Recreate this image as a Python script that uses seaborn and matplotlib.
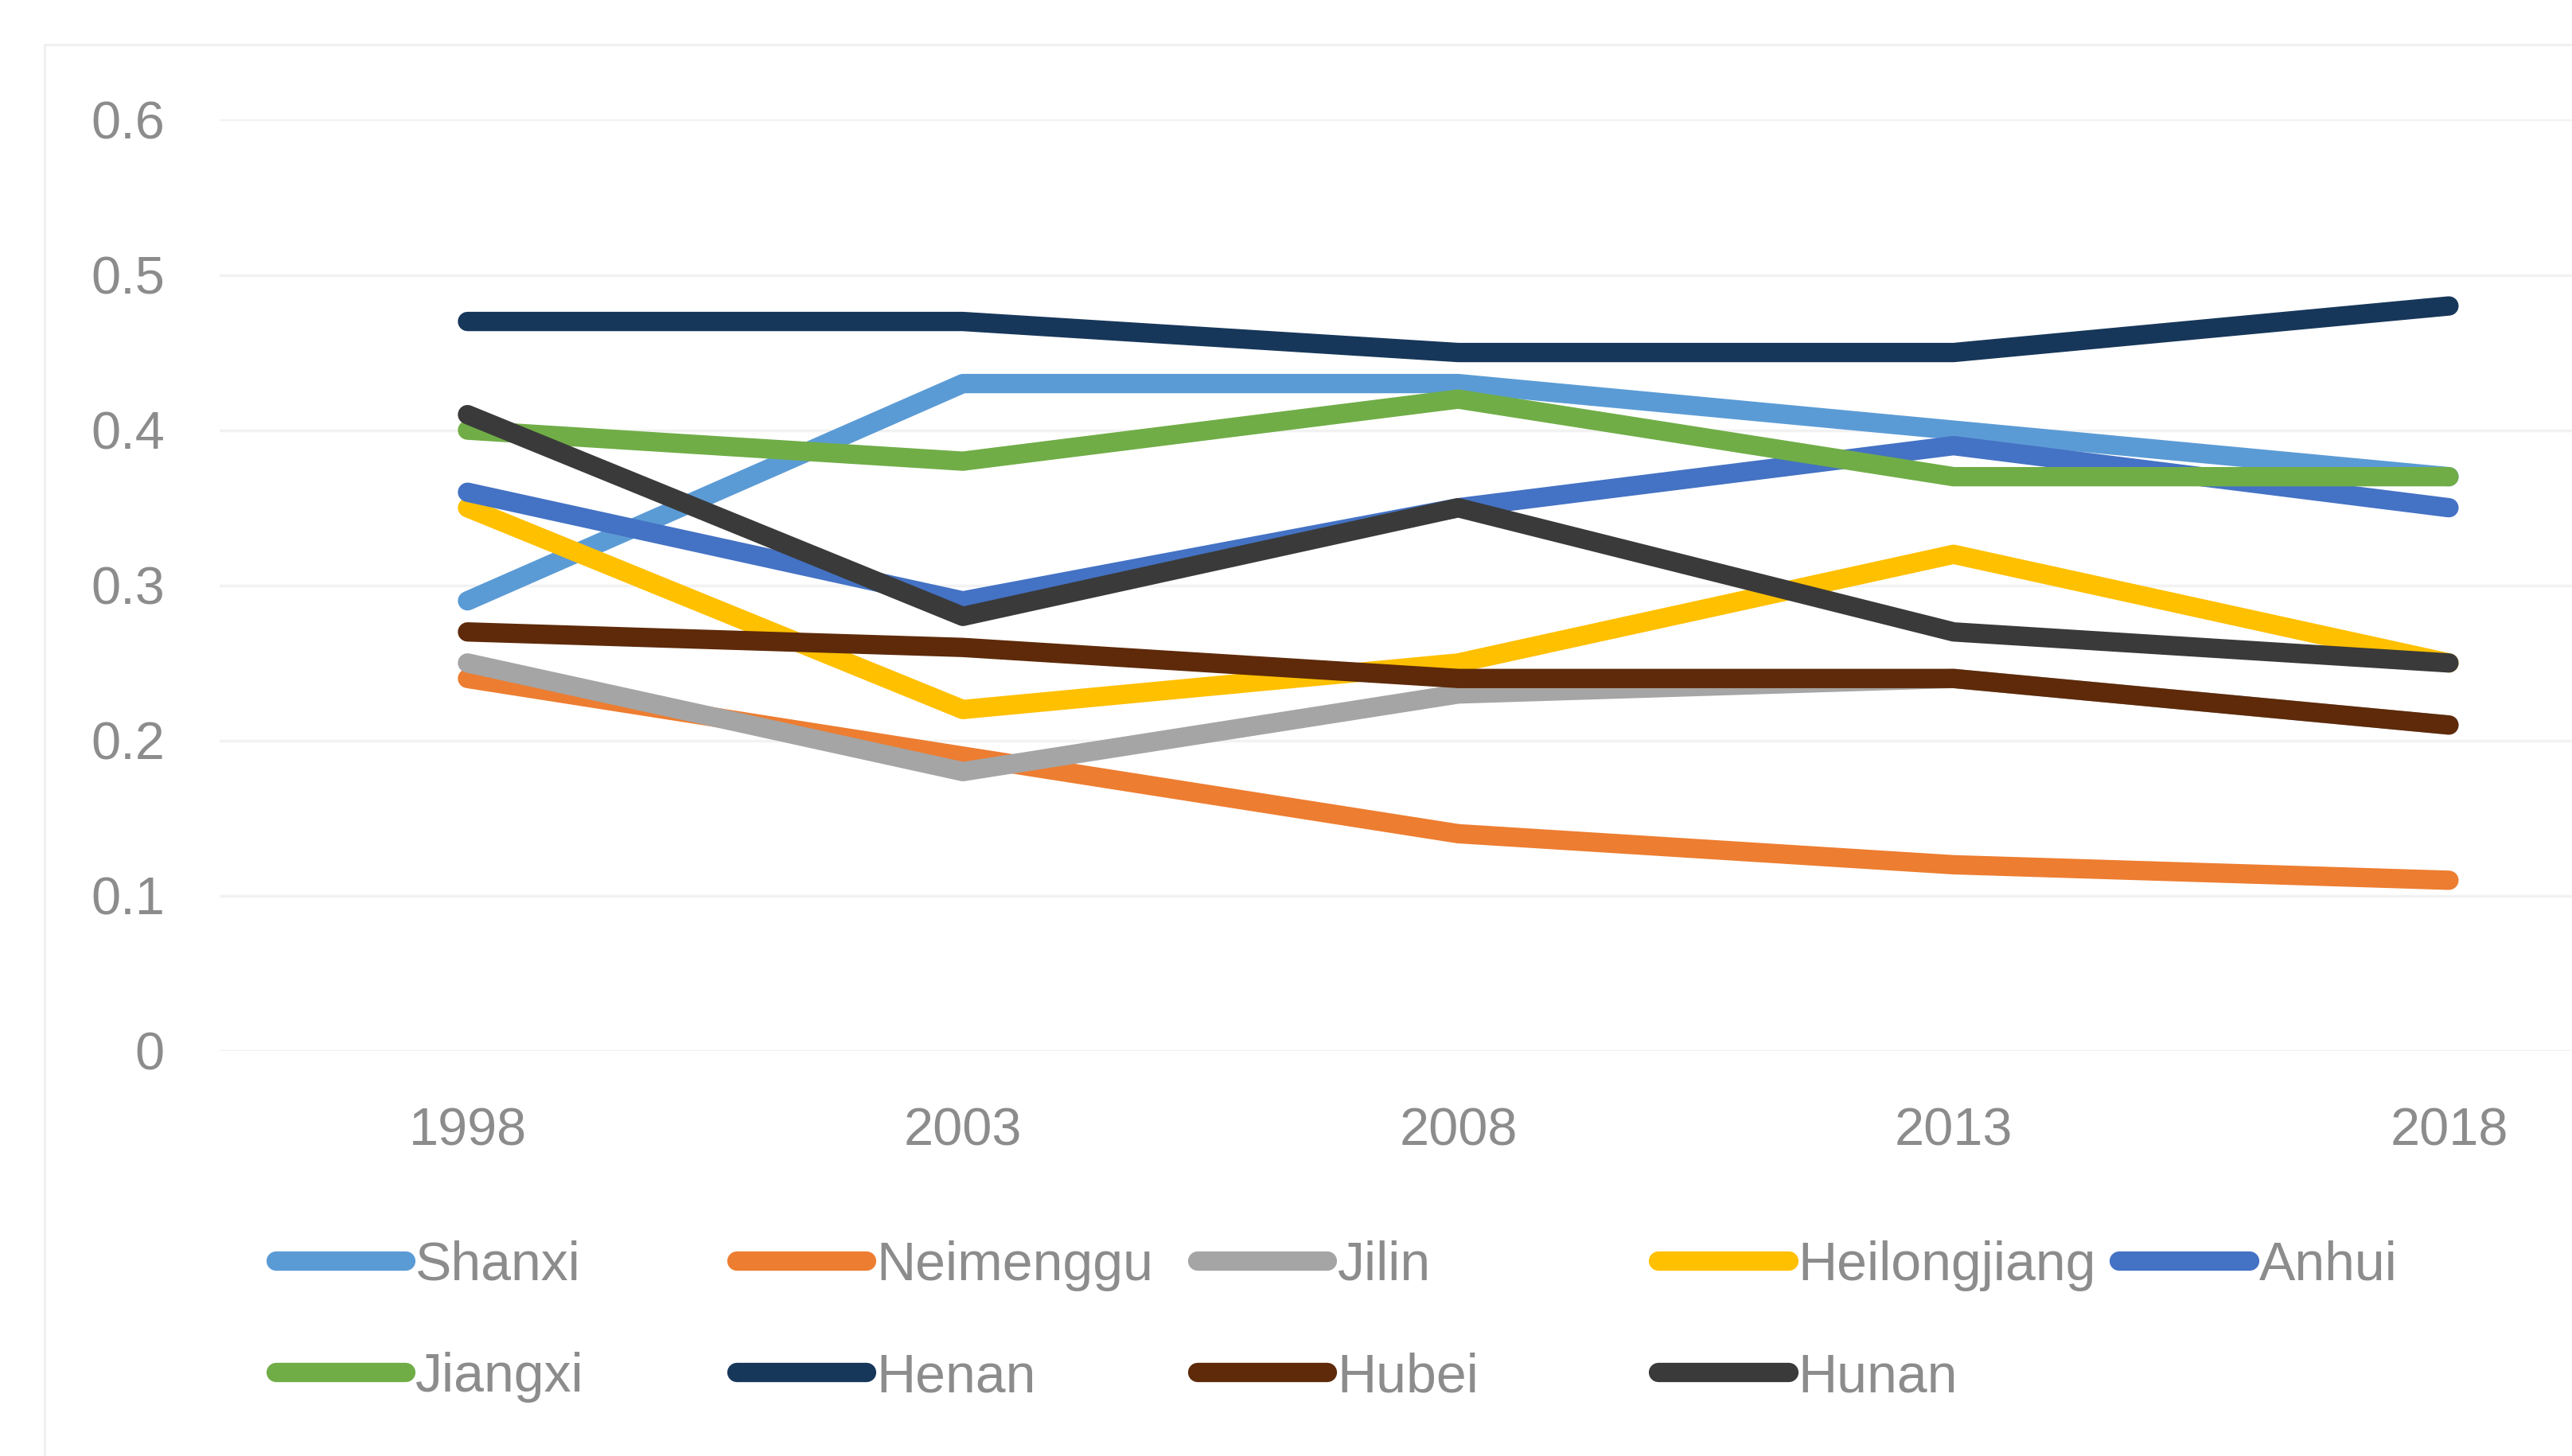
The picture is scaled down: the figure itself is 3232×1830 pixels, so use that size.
import matplotlib
matplotlib.use("Agg")
import matplotlib.pyplot as plt
import seaborn as sns
import pandas as pd
from matplotlib.lines import Line2D

years = [1998, 2003, 2008, 2013, 2018]
provinces = ["Shanxi", "Neimenggu", "Jilin", "Heilongjiang", "Anhui",
             "Jiangxi", "Henan", "Hubei", "Hunan"]
shanxi = [0.29, 0.43, 0.43, 0.40, 0.37]
neimenggu = [0.24, 0.19, 0.14, 0.12, 0.11]
jilin = [0.25, 0.18, 0.23, 0.24, 0.21]
heilongjiang = [0.35, 0.22, 0.25, 0.32, 0.25]
anhui = [0.36, 0.29, 0.35, 0.39, 0.35]
jiangxi = [0.40, 0.38, 0.42, 0.37, 0.37]
henan = [0.47, 0.47, 0.45, 0.45, 0.48]
hubei = [0.27, 0.26, 0.24, 0.24, 0.21]
hunan = [0.41, 0.28, 0.35, 0.27, 0.25]
yticks = [0, 0.1, 0.2, 0.3, 0.4, 0.5, 0.6]
ytick_labels = ["0", "0.1", "0.2", "0.3", "0.4", "0.5", "0.6"]

colors = ["#5B9BD5", "#ED7D31", "#A5A5A5", "#FFC000", "#4472C4",
          "#70AD47", "#17375A", "#5E2A0A", "#3A3A3A"]

series = [shanxi, neimenggu, jilin, heilongjiang, anhui, jiangxi, henan, hubei, hunan]
rows = []
for name, vals in zip(provinces, series):
    for y, v in zip(years, vals):
        rows.append({"Year": y, "Province": name, "Value": v})
df = pd.DataFrame(rows)

sns.set_theme(style="white")
plt.rcParams['font.family'] = ['Liberation Sans', 'DejaVu Sans']

W, H = 3232, 1830
fig = plt.figure(figsize=(W / 100, H / 100), dpi=100)
fig.patch.set_facecolor("white")

# axes extends past right edge (cropped chart)
left, right = 134 / 1568, 1644 / 1568
bottom, top = 1 - 641 / 888, 1 - 73 / 888
ax = fig.add_axes([left, bottom, right - left, top - bottom])

palette = dict(zip(provinces, colors))
lw = 17.5
sns.lineplot(data=df, x="Year", y="Value", hue="Province", hue_order=provinces,
             palette=palette, linewidth=lw, sort=False, ax=ax, legend=False,
             solid_capstyle="round", solid_joinstyle="round", zorder=3)

ax.set_xlim(years[0] - 2.5, years[-1] + 2.5)
ax.set_ylim(0, 0.6)
ax.set_xticks(years)
ax.set_xticklabels([str(y) for y in years])
ax.set_yticks(yticks)
ax.set_yticklabels(ytick_labels)
ax.set_xlabel("")
ax.set_ylabel("")
for s in ax.spines.values():
    s.set_visible(False)
ax.grid(axis="y", color="#F2F2F2", linewidth=2.5, zorder=0)
ax.grid(axis="x", visible=False)
ax.tick_params(axis="both", length=0, labelsize=48, labelcolor="#8C8C8C")
ax.tick_params(axis="y", pad=50)
ax.tick_params(axis="x", pad=51)
ax.set_facecolor("none")

# chart-area border (faint)
fig.add_artist(Line2D([27 / 1568, 27 / 1568], [0, 1 - 27 / 888], color="#F0F0F0",
                      linewidth=2, transform=fig.transFigure))
fig.add_artist(Line2D([27 / 1568, 1], [1 - 27 / 888, 1 - 27 / 888], color="#F0F0F0",
                      linewidth=2, transform=fig.transFigure))

# legend: uniform grid, 5 columns x 2 rows
col_x = [165, 446, 727, 1008, 1289]
row_y = [772, 840]
for i, (name, c) in enumerate(zip(provinces, colors)):
    r, k = divmod(i, 5)
    h = Line2D([0], [0], color=c, linewidth=lw, solid_capstyle="round")
    leg = fig.legend([h], [name], loc="center left",
                     bbox_to_anchor=(col_x[k] / 1568 + 0.002, 1 - row_y[r] / 888),
                     frameon=False, fontsize=49, handlelength=2.4,
                     handletextpad=0.18, borderpad=0, borderaxespad=0)
    for t in leg.get_texts():
        t.set_color("#8C8C8C")

fig.savefig("out.png", dpi=100, facecolor="white")
